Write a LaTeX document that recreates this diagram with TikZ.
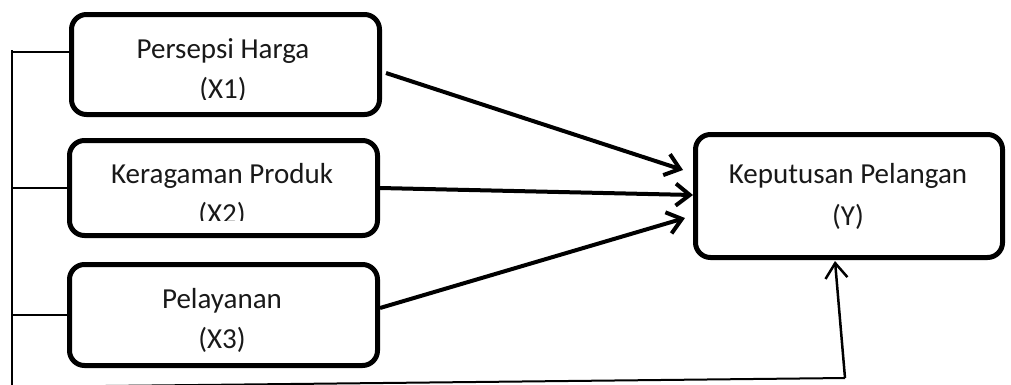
\documentclass[tikz,border=0pt]{standalone}
\usepackage{fontspec}
\setmainfont{Carlito}
\usetikzlibrary{arrows.meta,calc}
\tikzset{
  box/.style={draw, line width=5pt, rounded corners=15pt, inner sep=0pt, fill=white},
  lbl/.style={anchor=base, inner sep=0pt, font=\fontsize{29}{33}\selectfont, text=black!90},
  thin/.style={line width=2pt},
  big/.style={line width=4pt, -{Straight Barb[length=14pt,width=22pt,line width=4pt]}},
  small/.style={line width=2.5pt, -{Straight Barb[length=15pt,width=22pt,line width=2.5pt]}}
}
\begin{document}
\begin{tikzpicture}[x=1pt,y=-1pt]
\useasboundingbox (0,0) rectangle (1011,384);
\fill[white] (0,0) rectangle (1011,384);
% boxes
\node[box, minimum width=308pt, minimum height=100pt] (x1) at (225.5,64.5) {};
\node[box, minimum width=308pt, minimum height=95pt]  (x2) at (223.5,188) {};
\node[box, minimum width=308pt, minimum height=101pt] (x3) at (223.5,315) {};
\node[box, minimum width=307pt, minimum height=123pt] (y)  at (849,196) {};
% labels
\begin{scope}
\clip (69,14) rectangle (382,99);
\node[lbl] (x1a) at (223,58) {Persepsi Harga};
\node[lbl] (x1b) at (223,98) {(X1)};
\end{scope}
\begin{scope}
\clip (67,140) rectangle (380,220);
\node[lbl] (x2a) at (222,183) {Keragaman Produk};
\node[lbl] (x2b) at (222,223) {(X2)};
\end{scope}
\begin{scope}
\clip (67,264) rectangle (380,351);
\node[lbl] (x3a) at (222,308) {Pelayanan};
\node[lbl] (x3b) at (222,348) {(X3)};
\end{scope}
\node[lbl] (ya) at (848,183) {Keputusan Pelangan};
\node[lbl] (yb) at (848,225) {(Y)};
% left bracket lines
\coordinate (ltop) at (12,50);
\coordinate (lbot) at (12,390);
\coordinate (l1) at (12,52);
\coordinate (bl) at (12,387);
\coordinate (br) at (845,378);
\coordinate (yin) at (835,261);
\draw[thin] (ltop) -- (lbot);
\draw[thin] (l1) -- (l1 -| x1.west);
\draw[thin] (x2.west -| ltop) -- (x2.west);
\draw[thin] (x3.west -| ltop) -- (x3.west);
\draw[thin] (bl) -- (br);
\draw[small] (br) -- (yin);
% arrows
\draw[big] ($(x1.east)+(4,8.5)$) -- ($(y.west)+(-10,-26)$);
\draw[big] (x2.east) -- ($(y.west)+(0,-1)$);
\draw[big] ($(x3.east)+(0,-7)$) -- ($(y.west)+(-8,22)$);
\end{tikzpicture}
\end{document}
